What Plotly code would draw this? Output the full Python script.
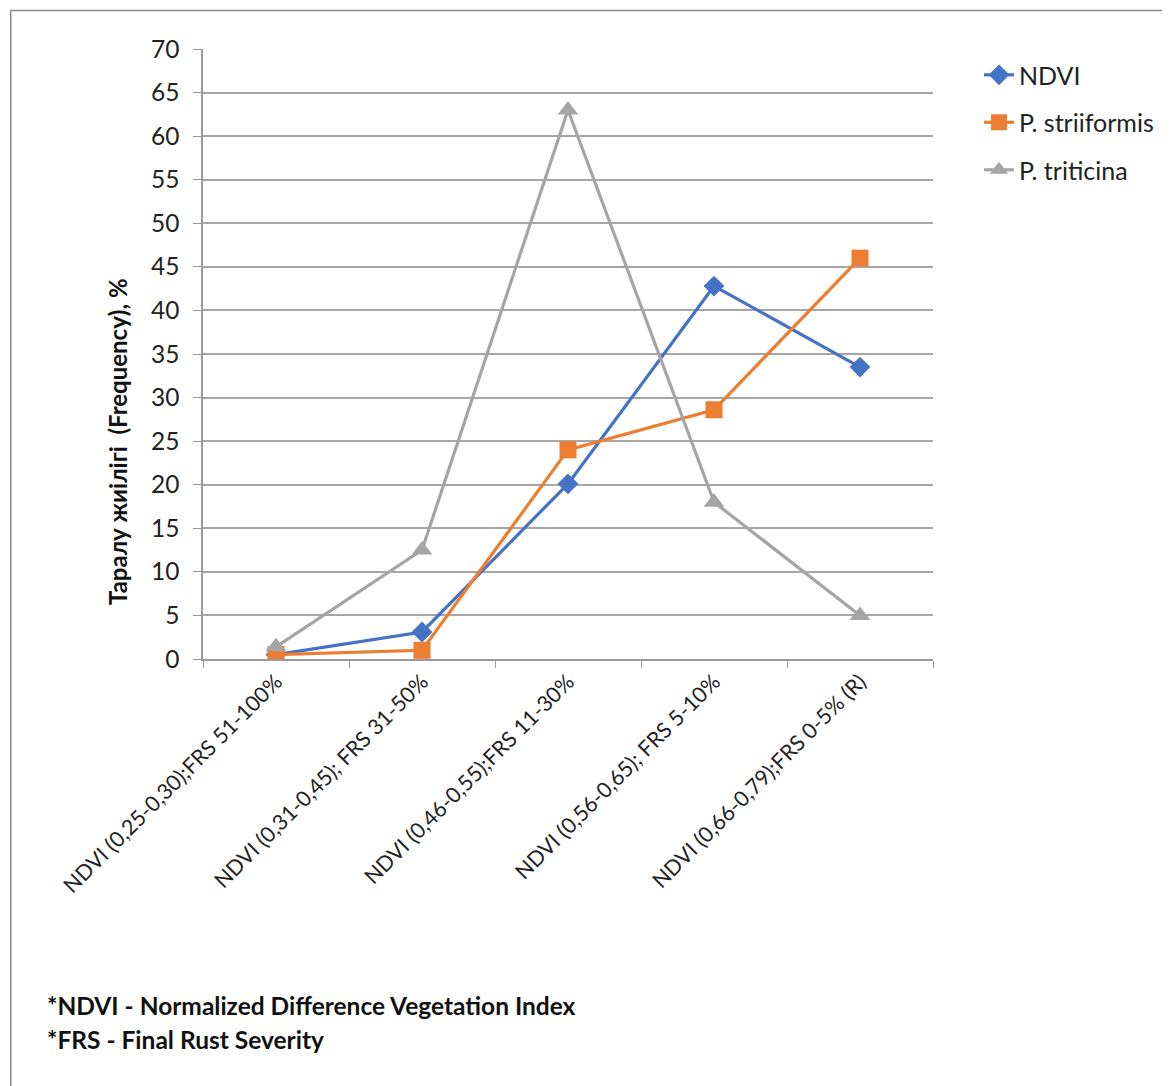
import plotly.graph_objects as go

categories = [
    "NDVI (0,25-0,30);FRS 51-100%",
    "NDVI (0,31-0,45); FRS 31-50%",
    "NDVI (0,46-0,55);FRS 11-30%",
    "NDVI (0,56-0,65); FRS 5-10%",
    "NDVI (0,66-0,79);FRS 0-5% (R)",
]
ndvi = [0.5, 3.1, 20.1, 42.8, 33.5]
p_striiformis = [0.5, 1.0, 24.0, 28.6, 46.0]
p_triticina = [1.4, 12.5, 63.0, 18.0, 5.0]

FONT = "Lato, Carlito, Calibri, sans-serif"

fig = go.Figure()
fig.add_trace(go.Scatter(x=categories, y=ndvi, name="NDVI", mode="lines+markers",
                         line=dict(color="#4472C4", width=3.2),
                         marker=dict(symbol="diamond", size=16, color="#4472C4"),
                         legendgroup="a"))
fig.add_trace(go.Scatter(x=categories, y=p_striiformis, name="P. striiformis", mode="lines+markers",
                         line=dict(color="#ED7D31", width=3.2),
                         marker=dict(symbol="square", size=17, color="#ED7D31"),
                         legendgroup="b"))
fig.add_trace(go.Scatter(x=categories, y=p_triticina, name="P. triticina", mode="lines+markers",
                         line=dict(color="#A5A5A5", width=3.2),
                         marker=dict(symbol="triangle-up", size=18, color="#A5A5A5"),
                         legendgroup="c"))

# page body has an 8px margin, so the figure is 8px smaller and margins shifted
fig.update_layout(
    width=1162, height=1078,
    margin=dict(l=195, r=236, t=41, b=427),
    paper_bgcolor="white", plot_bgcolor="white",
    font=dict(family=FONT, size=24, color="#222222"),
    showlegend=True,
    legend=dict(x=1.0616, y=0.995, xanchor="left", yanchor="top",
                font=dict(size=25, color="#222222"), tracegroupgap=12,
                bgcolor="rgba(0,0,0,0)"),
    xaxis=dict(type="category", tickangle=-45, tickson="boundaries",
               ticks="outside", ticklen=7, tickcolor="#999999",
               showline=True, linecolor="#999999", linewidth=1.5,
               showgrid=False, tickfont=dict(size=21.5, color="#222222"),
               range=[-0.5, 4.5]),
    yaxis=dict(range=[0, 70], dtick=5, ticks="outside", ticklen=8, tickcolor="#999999",
               showline=True, linecolor="#999999", linewidth=1.5,
               showgrid=True, gridcolor="#a6a6a6", gridwidth=1.5,
               zeroline=False, tickfont=dict(size=24.5, color="#222222"),
               ticklabelstandoff=9),
)

fig.add_annotation(text="<b>Таралу жиілігі  (Frequency), %</b>", xref="paper", yref="paper",
                   x=-0.118, y=0.357, textangle=-90, showarrow=False,
                   font=dict(size=24, color="#111111"), xanchor="center", yanchor="middle")
fig.add_annotation(text="<b>*NDVI - Normalized Difference Vegetation Index</b>", xref="paper", yref="paper",
                   x=(45 - 203) / 731, y=(659 - 1005) / 610, showarrow=False, xanchor="left", yanchor="middle",
                   font=dict(size=24.5, color="#111111"))
fig.add_annotation(text="<b>*FRS - Final Rust Severity</b>", xref="paper", yref="paper",
                   x=(45 - 203) / 731, y=(659 - 1039) / 610, showarrow=False, xanchor="left", yanchor="middle",
                   font=dict(size=24.5, color="#111111"))

fig.add_shape(type="rect", xref="paper", yref="paper",
              x0=(10.5 - 203) / 731, x1=(1180 - 203) / 731,
              y0=(659 - 1095) / 610, y1=(659 - 10.5) / 610,
              line=dict(color="#8c8c8c", width=1.5), fillcolor="rgba(0,0,0,0)", layer="below")

fig.write_html("out.html")
